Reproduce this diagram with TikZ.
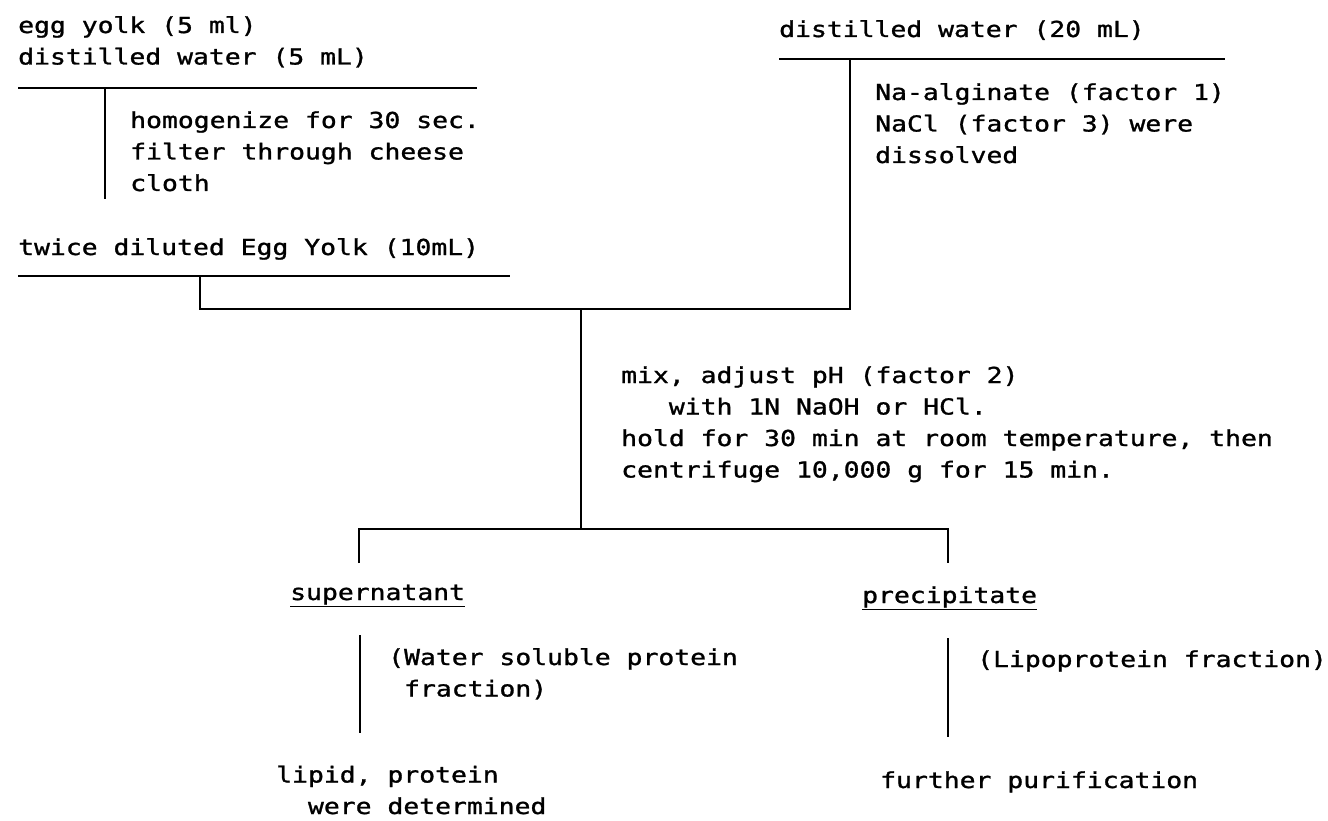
\documentclass[tikz,border=0pt]{standalone}
\usepackage{fontspec}
\newfontfamily\typew[FakeStretch=1.2,FakeBold=1.2]{DejaVu Sans Mono}
\usetikzlibrary{calc,positioning}
\tikzset{
  bar/.style={line width=2.6pt},
  stem/.style={line width=2.3pt}
}

\begin{document}
\begin{tikzpicture}[
    x=1pt,y=-1pt,
    txt/.style={inner sep=0pt,anchor=base west,align=left,font=\typew\fontsize{22}{31.5}\selectfont}
  ]
    \useasboundingbox (0,0) rectangle (1328,821);

    % multi-line texts sit on the baseline of their last line
    \node (Y0) at (18,64.5) [txt] {egg yolk (5 ml)\\distilled water (5 mL)};
    \node (H1) at (130,191) [txt] {homogenize for 30 sec.\\filter through cheese\\cloth};
    \node (D1) at (18,255) [txt] {twice diluted Egg Yolk (10mL)};
    \node (W0) at (779,37) [txt] {distilled water (20 mL)};
    \node (A1) at (875,163) [txt] {Na-alginate (factor 1)\\NaCl (factor 3) were\\dissolved};
    \node (M1) at (621,477.5) [txt] {mix, adjust pH (factor 2)\\\phantom{mix}with 1N NaOH or HCl.\\hold for 30 min at room temperature, then\\centrifuge 10,000 g for 15 min.};
    \node (SUP) at (290,600) [txt] {\underline{supernatant}};
    \node (PRE) at (862,603) [txt] {\underline{precipitate}};
    \node (WS) at (388,696.5) [txt] {(Water soluble protein\\\phantom{(}fraction)};
    \node (LP) at (977,667) [txt] {(Lipoprotein fraction)};
    \node (LD) at (276,814) [txt] {lipid, protein\\\phantom{li}were determined};
    \node (FP) at (880,788) [txt] {further purification};

    % bars under the starting materials
    \coordinate (Y0w) at (18,88);   \coordinate (Y0e) at (477,88);
    \coordinate (D1w) at (18,276);  \coordinate (D1e) at (510,276);
    \coordinate (W0w) at (779,59);  \coordinate (W0e) at (1225,59);
    \draw[bar] (Y0w) -- (Y0e);
    \draw[bar] (D1w) -- (D1e);
    \draw[bar] (W0w) -- (W0e);

    % junctions
    \coordinate (Jl) at (200,309);  \coordinate (Jr) at (850,309);
    \coordinate (Jm) at (581,309);  \coordinate (Km) at (581,529);
    \coordinate (Kl) at (359,529);  \coordinate (Kr) at (948,529);

    \draw[stem] (105,88) -- (105,199);
    \draw[bar] (200,276) |- (Jr) -- (850,59);
    \draw[stem] (Jm) -- (Km);
    \draw[bar] (359,563) |- (Kr) -- (948,563);
    \draw[stem] (360,635) -- (360,733);
    \draw[stem] (948,638) -- (948,737);

\end{tikzpicture}
\end{document}
